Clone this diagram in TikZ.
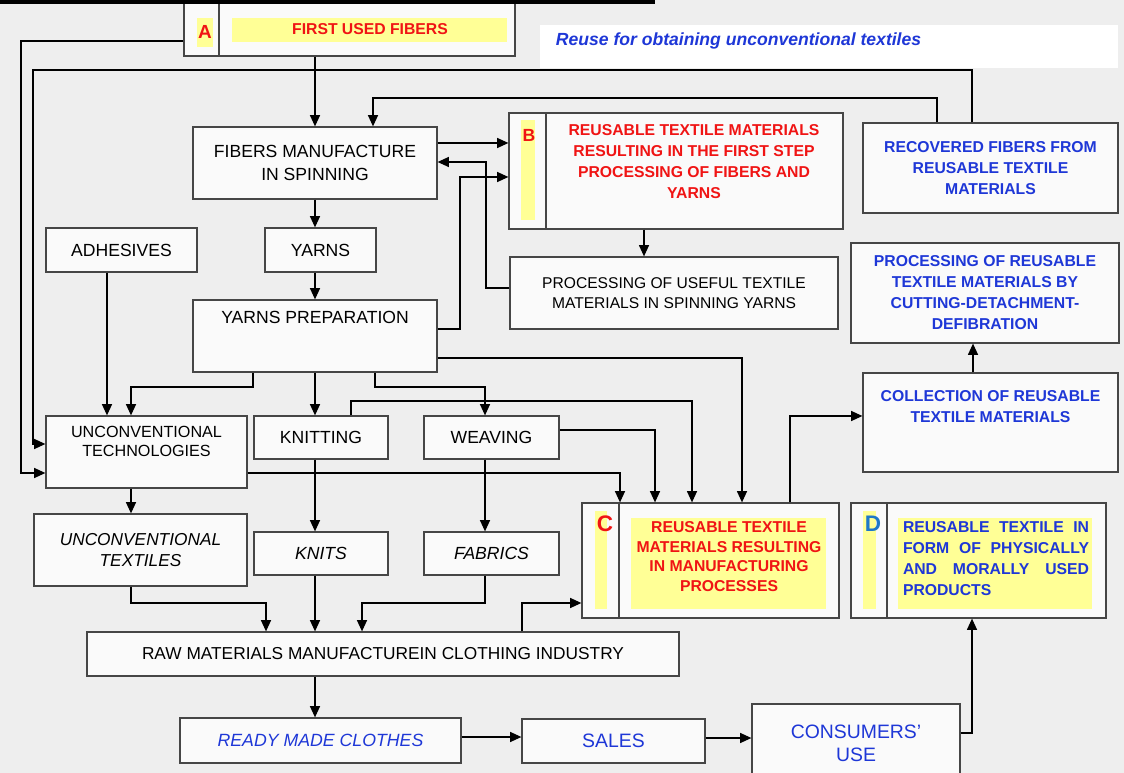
\documentclass[tikz,border=0pt]{standalone}
\usepackage{fontspec}
\setmainfont{Liberation Sans}
\usetikzlibrary{arrows.meta, calc}
\definecolor{bgc}{RGB}{238,238,238}
\definecolor{boxbg}{RGB}{250,250,250}
\definecolor{bordc}{RGB}{70,70,70}
\definecolor{redt}{RGB}{240,20,20}
\definecolor{bluet}{RGB}{30,55,215}
\definecolor{yel}{RGB}{255,255,150}
\definecolor{dcol}{RGB}{30,120,200}

\begin{document}
\begin{tikzpicture}[x=0.25mm, y=-0.25mm,
  box/.style={draw=bordc, line width=0.9pt, fill=boxbg, inner sep=0pt, align=center},
  arr/.style={-{Triangle[length=2.8mm,width=2.5mm]}, line width=0.85pt},
  sep/.style={draw=bordc, line width=0.9pt},
  blk/.style={font=\fontsize{12.5}{16.3}\selectfont},
  sml/.style={font=\fontsize{11.1}{14.2}\selectfont},
  redb/.style={text=redt, font=\fontsize{11.2}{14.9}\selectfont\bfseries, align=center},
  blub/.style={text=bluet, font=\fontsize{11.2}{14.9}\selectfont\bfseries, align=center},
  blu/.style={text=bluet, font=\fontsize{13.8}{16.3}\selectfont}]
\path[use as bounding box, fill=bgc] (0,0) rectangle (1124,773);
\fill[white] (540,25) rectangle (1118,68);
\node[text=bluet, anchor=west, font=\fontsize{12.5}{15}\selectfont\bfseries\itshape] (reuse) at (551,41) {Reuse for obtaining unconventional textiles};

\node[box, minimum width=82.75mm, minimum height=14.5mm] (A) at (349.5,27) {};
\fill[yel] (197,18) rectangle (213,47);
\fill[yel] (232,18) rectangle (507,42);
\draw[sep] (A.north -| 219,0) -- (A.south -| 219,0);
\node[text=redt, font=\fontsize{13.5}{13.5}\selectfont\bfseries] (Alet) at (205,32) {A};
\node[redb] (Atxt) at (370,29) {FIRST USED FIBERS};
\draw[line width=1mm] (0,2) -- (655,2);

\node[box, blk, minimum width=61mm, minimum height=18mm] (fib) at (315,163) {FIBERS MANUFACTURE\\IN SPINNING};
\node[box, blk, minimum width=37.75mm, minimum height=11mm] (adh) at (121.5,250) {ADHESIVES};
\node[box, blk, minimum width=27.75mm, minimum height=11mm] (yarns) at (320.5,250) {YARNS};
\node[box, minimum width=61mm, minimum height=18mm,
  label={[blk, anchor=center, yshift=-4.5mm]north:YARNS PREPARATION}] (yprep) at (315,336) {};

\node[box, minimum width=83.5mm, minimum height=29mm] (rb) at (676,171) {};
\fill[yel] (521,120) rectangle (535,220);
\draw[sep] (rb.north -| 546,0) -- (rb.south -| 546,0);
\node[text=redt, font=\fontsize{12.5}{12.5}\selectfont\bfseries] (Blet) at (529,135) {B};
\node[redb] (Btxt) at (694,161.5) {REUSABLE TEXTILE MATERIALS\\RESULTING IN THE FIRST STEP\\PROCESSING OF FIBERS AND\\YARNS};
\node[box, sml, minimum width=82mm, minimum height=18mm] (proc) at (674,293) {PROCESSING OF USEFUL TEXTILE\\MATERIALS IN SPINNING YARNS};

\node[box, blub, minimum width=63.75mm, minimum height=22.5mm] (rec) at (990.5,168) {RECOVERED FIBERS FROM\\REUSABLE TEXTILE\\MATERIALS};
\node[box, blub, minimum width=67mm, minimum height=25mm] (prr) at (985,293) {PROCESSING OF REUSABLE\\TEXTILE MATERIALS BY\\CUTTING-DETACHMENT-\\DEFIBRATION};
\node[box, minimum width=63.75mm, minimum height=24.75mm,
  label={[blub, anchor=center, yshift=-8.6mm]north:COLLECTION OF REUSABLE\\TEXTILE MATERIALS}] (coll) at (990.5,422.5) {};

\node[box, minimum width=50.25mm, minimum height=18mm,
  label={[align=center, font=\fontsize{11.5}{13.5}\selectfont, anchor=center, yshift=-6.6mm]north:UNCONVENTIONAL\\TECHNOLOGIES}] (ut) at (146.5,452) {};
\node[box, blk, minimum width=33.5mm, minimum height=10.75mm] (knit) at (321,437.5) {KNITTING};
\node[box, blk, minimum width=33.75mm, minimum height=10.75mm] (weav) at (491.5,437.5) {WEAVING};
\node[box, font=\fontsize{12.3}{15}\selectfont\itshape, minimum width=53.25mm, minimum height=18mm] (utex) at (140.5,550) {UNCONVENTIONAL\\TEXTILES};
\node[box, blk, font=\fontsize{12.5}{15}\selectfont\itshape, minimum width=33.5mm, minimum height=10.75mm] (knits) at (321,553.5) {KNITS};
\node[box, blk, font=\fontsize{12.5}{15}\selectfont\itshape, minimum width=33.75mm, minimum height=10.75mm] (fabr) at (491.5,553.5) {FABRICS};

\node[box, minimum width=64.25mm, minimum height=28.75mm] (C) at (710.5,560.5) {};
\fill[yel] (595,511) rectangle (607,609);
\fill[yel] (631,518) rectangle (826,609);
\draw[sep] (C.north -| 619,0) -- (C.south -| 619,0);
\node[text=redt, font=\fontsize{16}{16}\selectfont\bfseries] (Clet) at (605,524) {C};
\node[redb, font=\fontsize{11.2}{14}\selectfont\bfseries] (Ctxt) at (729,556.5) {REUSABLE TEXTILE\\MATERIALS RESULTING\\IN MANUFACTURING\\PROCESSES};

\node[box, minimum width=63.75mm, minimum height=28.75mm] (D) at (978.5,560.5) {};
\fill[yel] (863,511) rectangle (876,609);
\fill[yel] (898,518) rectangle (1092,609);
\draw[sep] (D.north -| 887,0) -- (D.south -| 887,0);
\node[text=dcol, font=\fontsize{16}{16}\selectfont\bfseries] (Dlet) at (873,524) {D};
\node[blub, text width=46.5mm, align=justify] (Dtxt) at (996,558.5) {\hyphenpenalty=10000\tolerance=9999 REUSABLE TEXTILE IN FORM OF PHYSICALLY AND MORALLY USED PRODUCTS};

\node[box, font=\fontsize{12.3}{15}\selectfont, minimum width=148mm, minimum height=11mm] (raw) at (383,654) {RAW MATERIALS MANUFACTUREIN CLOTHING INDUSTRY};
\node[box, text=bluet, font=\fontsize{12.6}{15}\selectfont\itshape, minimum width=70.25mm, minimum height=11.25mm] (rmc) at (320.5,740.5) {READY MADE CLOTHES};
\node[box, blu, minimum width=45.75mm, minimum height=11mm] (sales) at (613.5,741) {SALES};
\node[box, blu, minimum width=52mm, minimum height=19.75mm] (cons) at (856,743.5) {CONSUMERS'\\USE};

\draw[arr] (A.south -| fib.north) -- (fib.north);
\draw[arr] (A.west |- 0,41) -| (21,473) -- (ut.west |- 0,473);
\draw[arr] (rec.north -| 972,0) |- (33,70) |- (ut.west |- 0,444);
\draw[arr] (rec.north -| 937,0) |- (373,98) -- (fib.north -| 373,0);
\draw[arr] (fib.east |- 0,143) -- (rb.west |- 0,143);
\draw[arr] (proc.west |- 0,288) -| (486,162) -- (fib.east |- 0,162);
\draw[arr] (yprep.east |- 0,329) -| (460,177) -- (rb.west |- 0,177);
\draw[arr] (rb.south -| 644,0) -- (proc.north -| 644,0);
\draw[arr] (fib.south) -- (fib.south |- yarns.north);
\draw[arr] (yarns.south -| yprep.north) -- (yprep.north);
\draw[arr] (adh.south -| 107,0) -- (ut.north -| 107,0);
\draw[arr] (yprep.south -| 253,0) |- (131,387) -- (ut.north -| 131,0);
\draw[arr] (yprep.south) -- (yprep.south |- knit.north);
\draw[arr] (yprep.south -| 375,0) |- (485,387) -- (weav.north -| 485,0);
\draw[arr] (yprep.east |- 0,358) -| (C.north -| 742,0);
\draw[arr] (knit.north -| 351,0) |- (692,401) -- (C.north -| 692,0);
\draw[arr] (weav.east |- 0,430) -| (C.north -| 655,0);
\draw[arr] (ut.east |- 0,473) -| (C.north -| 620,0);
\draw[arr] (ut.south -| 131,0) -- (utex.north -| 131,0);
\foreach \a/\b/\x in {knit/knits/315, weav/fabr/485}
  \draw[arr] (\a.south -| \x,0) -- (\b.north -| \x,0);
\draw[arr] (utex.south -| 131,0) |- (266,603) -- (raw.north -| 266,0);
\draw[arr] (knits.south -| 315,0) -- (raw.north -| 315,0);
\draw[arr] (fabr.south -| 485,0) |- (362,603) -- (raw.north -| 362,0);
\draw[arr] (raw.north -| 522,0) |- (C.west |- 0,603);
\draw[arr] (raw.south -| 315,0) -- (rmc.north -| 315,0);
\draw[arr] (rmc.east |- 0,737) -- (sales.west |- 0,737);
\draw[arr] (sales.east |- 0,738) -- (cons.west |- 0,738);
\draw[arr] (cons.east |- 0,733) -| (D.south -| 972,0);
\draw[arr] (C.north -| 790,0) |- (coll.west |- 0,416);
\draw[arr] (coll.north -| 973,0) -- (prr.south -| 973,0);
\end{tikzpicture}
\end{document}
